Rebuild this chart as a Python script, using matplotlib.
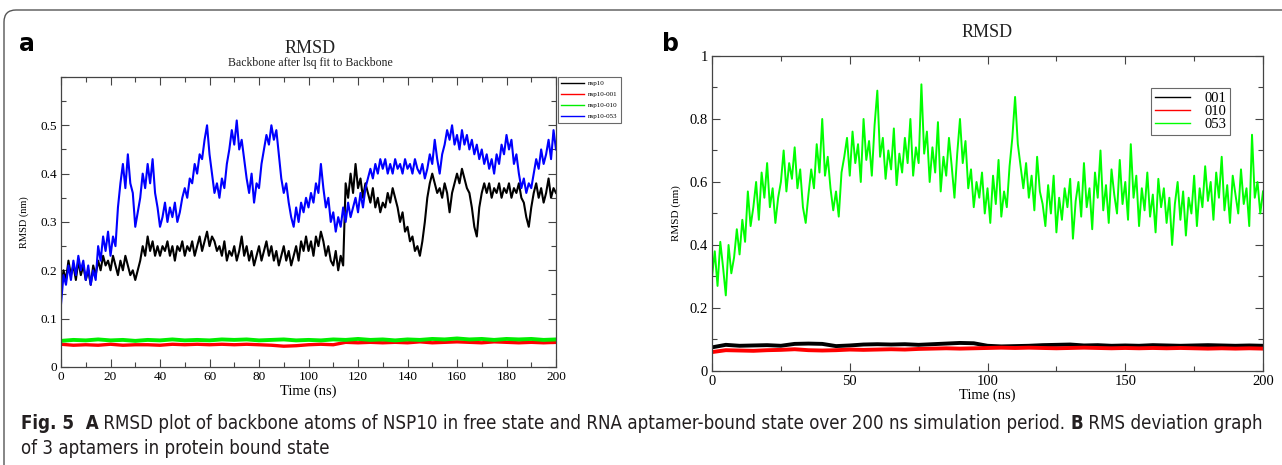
import numpy as np
import matplotlib.pyplot as plt
from matplotlib import font_manager
from matplotlib.patches import FancyBboxPatch
from matplotlib.ticker import MultipleLocator
from matplotlib.transforms import IdentityTransform

# ---- panel a: RMSD of NSP10 backbone ----
# one value per ns (0..200)
nsp10 = [
    0.16, 0.20, 0.18, 0.22, 0.19, 0.21, 0.18, 0.22, 0.19, 0.21,
    0.18, 0.20, 0.17, 0.21, 0.19, 0.22, 0.20, 0.23, 0.21, 0.22,
    0.20, 0.23, 0.21, 0.19, 0.22, 0.20, 0.23, 0.21, 0.19, 0.20,
    0.18, 0.20, 0.22, 0.25, 0.23, 0.27, 0.24, 0.26, 0.23, 0.25,
    0.23, 0.25, 0.24, 0.26, 0.23, 0.25, 0.22, 0.25, 0.24, 0.26,
    0.23, 0.25, 0.24, 0.26, 0.23, 0.25, 0.27, 0.24, 0.26, 0.28,
    0.25, 0.27, 0.26, 0.24, 0.25, 0.23, 0.26, 0.22, 0.24, 0.23,
    0.25, 0.22, 0.24, 0.27, 0.23, 0.25, 0.22, 0.24, 0.21, 0.23,
    0.25, 0.22, 0.24, 0.26, 0.23, 0.25, 0.22, 0.24, 0.21, 0.23,
    0.25, 0.22, 0.24, 0.21, 0.23, 0.25, 0.22, 0.26, 0.24, 0.27,
    0.24, 0.26, 0.23, 0.27, 0.25, 0.28, 0.26, 0.23, 0.25, 0.22,
    0.21, 0.24, 0.20, 0.23, 0.21, 0.38, 0.35, 0.40, 0.36, 0.42,
    0.37, 0.39, 0.35, 0.38, 0.36, 0.34, 0.37, 0.33, 0.35, 0.32,
    0.34, 0.33, 0.36, 0.34, 0.37, 0.35, 0.33, 0.30, 0.32, 0.28,
    0.29, 0.26, 0.27, 0.24, 0.25, 0.23, 0.26, 0.30, 0.35, 0.38,
    0.40, 0.38, 0.36, 0.37, 0.35, 0.38, 0.36, 0.32, 0.36, 0.38,
    0.40, 0.38, 0.41, 0.39, 0.37, 0.36, 0.33, 0.29, 0.27, 0.33,
    0.36, 0.38, 0.36, 0.38, 0.35, 0.37, 0.36, 0.38, 0.35, 0.37,
    0.36, 0.38, 0.35, 0.37, 0.36, 0.38, 0.35, 0.34, 0.31, 0.29,
    0.33, 0.36, 0.38, 0.35, 0.37, 0.34, 0.36, 0.39, 0.35, 0.37,
    0.36,
]
nsp10_053 = [
    0.13, 0.19, 0.17, 0.21, 0.18, 0.22, 0.19, 0.23, 0.20, 0.22,
    0.18, 0.21, 0.17, 0.20, 0.18, 0.25, 0.22, 0.27, 0.24, 0.28,
    0.23, 0.27, 0.25, 0.33, 0.38, 0.42, 0.37, 0.44, 0.38, 0.36,
    0.29, 0.32, 0.35, 0.40, 0.37, 0.42, 0.38, 0.43, 0.36, 0.33,
    0.29, 0.31, 0.34, 0.30, 0.33, 0.31, 0.34, 0.30, 0.32, 0.35,
    0.37, 0.35, 0.39, 0.38, 0.42, 0.40, 0.44, 0.43, 0.47, 0.50,
    0.44, 0.40, 0.36, 0.38, 0.35, 0.39, 0.37, 0.42, 0.45, 0.49,
    0.46, 0.51, 0.45, 0.47, 0.43, 0.39, 0.36, 0.40, 0.34, 0.38,
    0.37, 0.42, 0.45, 0.48, 0.46, 0.50, 0.47, 0.49, 0.44, 0.39,
    0.36, 0.38, 0.34, 0.31, 0.29, 0.33, 0.30, 0.34, 0.32, 0.35,
    0.33, 0.36, 0.34, 0.38, 0.36, 0.42, 0.37, 0.33, 0.35, 0.30,
    0.32, 0.28, 0.31, 0.29, 0.33, 0.30, 0.34, 0.31, 0.33, 0.35,
    0.32, 0.36, 0.33, 0.37, 0.39, 0.41, 0.39, 0.42, 0.40, 0.43,
    0.41, 0.43, 0.40, 0.42, 0.40, 0.43, 0.41, 0.42, 0.40, 0.43,
    0.41, 0.42, 0.40, 0.43, 0.41, 0.40, 0.42, 0.39, 0.41, 0.44,
    0.42, 0.47, 0.43, 0.40, 0.44, 0.46, 0.49, 0.47, 0.50, 0.46,
    0.48, 0.45, 0.49, 0.46, 0.48, 0.45, 0.47, 0.44, 0.46, 0.43,
    0.45, 0.42, 0.44, 0.41, 0.43, 0.40, 0.44, 0.42, 0.46, 0.44,
    0.48, 0.45, 0.47, 0.42, 0.44, 0.40, 0.37, 0.39, 0.36, 0.38,
    0.37, 0.40, 0.43, 0.41, 0.45, 0.42, 0.44, 0.47, 0.43, 0.49,
    0.45,
]
# flat traces, one value every 5 ns
nsp10_001 = [
    0.047, 0.045, 0.046, 0.045, 0.047, 0.045, 0.046, 0.046, 0.045, 0.047,
    0.046, 0.047, 0.046, 0.047, 0.046, 0.047, 0.046, 0.045, 0.043, 0.044,
    0.046, 0.047, 0.046, 0.051, 0.050, 0.051, 0.050, 0.051, 0.050, 0.052,
    0.050, 0.051, 0.052, 0.051, 0.050, 0.052, 0.051, 0.050, 0.051, 0.050,
    0.051,
]
nsp10_010 = [
    0.054, 0.056, 0.055, 0.057, 0.055, 0.056, 0.054, 0.056, 0.055, 0.057,
    0.055, 0.056, 0.055, 0.057, 0.056, 0.057, 0.055, 0.056, 0.057, 0.055,
    0.056, 0.055, 0.057, 0.056, 0.058, 0.056, 0.057, 0.055, 0.057, 0.056,
    0.058, 0.057, 0.059, 0.057, 0.058, 0.056, 0.058, 0.057, 0.058, 0.056,
    0.057,
]
labels_a = ['nsp10', 'nsp10-001', 'nsp10-010', 'nsp10-053']

# ---- panel b: RMSD of the 3 aptamers ----
apt_053 = [
    0.30, 0.38, 0.27, 0.41, 0.33, 0.24, 0.40, 0.31, 0.36, 0.45,
    0.37, 0.48, 0.41, 0.57, 0.46, 0.52, 0.60, 0.48, 0.63, 0.55,
    0.66, 0.52, 0.58, 0.47, 0.55, 0.60, 0.70, 0.57, 0.66, 0.61,
    0.71, 0.58, 0.64, 0.52, 0.47, 0.56, 0.64, 0.58, 0.72, 0.63,
    0.80, 0.62, 0.68, 0.58, 0.51, 0.57, 0.49, 0.63, 0.68, 0.74,
    0.62, 0.76, 0.66, 0.72, 0.60, 0.80, 0.67, 0.73, 0.62, 0.78,
    0.89, 0.68, 0.74, 0.61, 0.70, 0.64, 0.77, 0.59, 0.69, 0.63,
    0.74, 0.66, 0.80, 0.62, 0.71, 0.66, 0.91, 0.69, 0.76, 0.60,
    0.71, 0.63, 0.79, 0.57, 0.68, 0.62, 0.74, 0.65, 0.55, 0.69,
    0.80, 0.66, 0.73, 0.58, 0.64, 0.52, 0.60, 0.55, 0.63, 0.50,
    0.58, 0.47, 0.62, 0.53, 0.67, 0.49, 0.57, 0.52, 0.65, 0.74,
    0.87, 0.72, 0.65, 0.58, 0.66, 0.55, 0.62, 0.51, 0.68, 0.57,
    0.53, 0.46, 0.59, 0.50, 0.62, 0.44, 0.55, 0.48, 0.58, 0.52,
    0.61, 0.42, 0.54, 0.60, 0.49, 0.66, 0.52, 0.58, 0.45, 0.63,
    0.55, 0.70, 0.51, 0.59, 0.47, 0.64, 0.56, 0.50, 0.67, 0.53,
    0.60, 0.48, 0.72, 0.55, 0.62, 0.46, 0.58, 0.51, 0.63, 0.49,
    0.56, 0.44, 0.61, 0.52, 0.58, 0.47, 0.55, 0.40, 0.53, 0.60,
    0.48, 0.57, 0.43, 0.55, 0.50, 0.62, 0.46, 0.58, 0.52, 0.65,
    0.54, 0.60, 0.48, 0.63, 0.55, 0.68, 0.51, 0.59, 0.47, 0.62,
    0.56, 0.50, 0.64, 0.53, 0.58, 0.46, 0.75, 0.55, 0.60, 0.50,
    0.57,
]
apt_001 = [
    0.075, 0.083, 0.080, 0.081, 0.082, 0.080, 0.086, 0.087, 0.086, 0.079,
    0.081, 0.084, 0.085, 0.084, 0.085, 0.083, 0.085, 0.087, 0.089, 0.088,
    0.080, 0.078, 0.079, 0.080, 0.082, 0.083, 0.084, 0.081, 0.082, 0.080,
    0.081, 0.080, 0.082, 0.081, 0.080, 0.081, 0.082, 0.081, 0.080, 0.081,
    0.080,
]
apt_010 = [
    0.060, 0.066, 0.065, 0.064, 0.066, 0.067, 0.069, 0.066, 0.065, 0.066,
    0.068, 0.067, 0.068, 0.069, 0.068, 0.070, 0.071, 0.072, 0.071, 0.072,
    0.073, 0.074, 0.073, 0.074, 0.073, 0.072, 0.073, 0.074, 0.073, 0.072,
    0.073, 0.072, 0.073, 0.072, 0.073, 0.072, 0.071, 0.072, 0.071, 0.072,
    0.071,
]
labels_b = ['001', '010', '053']

SERIF = 'Liberation Serif'
INK = '#222222'


def t_axis(values):
    return np.linspace(0, 200, len(values))


def grace_axes(ax, xmaj, xmin, ymaj, ymin, ylabels, size):
    ax.set_xlim(0, 200)
    ax.xaxis.set_major_locator(MultipleLocator(xmaj))
    ax.xaxis.set_minor_locator(MultipleLocator(xmin))
    ax.set_yticks(ymaj)
    ax.set_yticklabels(ylabels)
    ax.yaxis.set_minor_locator(MultipleLocator(ymin))
    ax.tick_params(which='both', direction='in', top=True, right=True,
                   width=0.8, color='#444444', labelsize=size, pad=3)
    ax.tick_params(which='major', length=6)
    ax.tick_params(which='minor', length=3.5)
    for lab in ax.get_xticklabels() + ax.get_yticklabels():
        lab.set_family(SERIF)
    for sp in ax.spines.values():
        sp.set_linewidth(0.9)
        sp.set_color('#444444')


fig = plt.figure(figsize=(12.82, 4.65), dpi=100)

# ---------------- panel a ----------------
ax1 = fig.add_axes([0.0476, 0.2108, 0.3861, 0.6237])
ax1.plot(t_axis(nsp10), nsp10, color='black', lw=1.5, label=labels_a[0])
ax1.plot(t_axis(nsp10_001), nsp10_001, color='#ff0000', lw=2.4, label=labels_a[1])
ax1.plot(t_axis(nsp10_010), nsp10_010, color='#00ee00', lw=2.8, label=labels_a[2])
ax1.plot(t_axis(nsp10_053), nsp10_053, color='#0000ff', lw=1.5, label=labels_a[3])
ax1.set_ylim(0, 0.6)
grace_axes(ax1, 20, 10, [0, 0.1, 0.2, 0.3, 0.4, 0.5], 0.05,
           ['0', '0.1', '0.2', '0.3', '0.4', '0.5'], 9.5)
ax1.set_xlabel('Time (ns)', family=SERIF, fontsize=10.5, labelpad=1)
ax1.set_ylabel('RMSD (nm)', family=SERIF, fontsize=7.5, labelpad=8)
leg = ax1.legend(loc='upper left', bbox_to_anchor=(1.004, 1.0), frameon=True,
                 fancybox=False, prop={'family': SERIF, 'size': 5},
                 handlelength=3.2, handletextpad=0.6, borderpad=0.5,
                 labelspacing=0.75, borderaxespad=0)
leg.get_frame().set_edgecolor('#444444')
leg.get_frame().set_linewidth(0.8)
for ln in leg.get_lines():
    ln.set_linewidth(1.0)
fig.text(0.2420, 0.895, 'RMSD', family=SERIF, fontsize=13, ha='center', va='center', color=INK)
fig.text(0.2420, 0.864, 'Backbone after lsq fit to Backbone', family=SERIF,
         fontsize=8.5, ha='center', va='center', color=INK)
fig.text(0.0145, 0.905, 'a', fontsize=17, fontweight='bold', family='DejaVu Sans',
         ha='left', va='center', color='black')

# ---------------- panel b ----------------
ax2 = fig.add_axes([0.5554, 0.2022, 0.4298, 0.6774])
ax2.plot(t_axis(apt_001), apt_001, color='black', lw=2.8, label=labels_b[0])
ax2.plot(t_axis(apt_010), apt_010, color='#ff0000', lw=2.8, label=labels_b[1])
ax2.plot(t_axis(apt_053), apt_053, color='#00ff00', lw=1.4, label=labels_b[2])
ax2.set_ylim(0, 1)
grace_axes(ax2, 50, 25, [0, 0.2, 0.4, 0.6, 0.8, 1.0], 0.1,
           ['0', '0.2', '0.4', '0.6', '0.8', '1'], 10.5)
ax2.set_xlabel('Time (ns)', family=SERIF, fontsize=10.5, labelpad=0)
ax2.set_ylabel('RMSD (nm)', family=SERIF, fontsize=8, labelpad=6)
leg2 = ax2.legend(loc='upper right', bbox_to_anchor=(0.94, 0.898), frameon=True,
                  fancybox=False, prop={'family': SERIF, 'size': 10.5},
                  handlelength=2.4, handletextpad=1.0, borderpad=0.25,
                  labelspacing=0.0, borderaxespad=0)
leg2.get_frame().set_edgecolor('#444444')
leg2.get_frame().set_linewidth(0.8)
for ln in leg2.get_lines():
    ln.set_linewidth(1.0)
fig.text(0.7700, 0.931, 'RMSD', family=SERIF, fontsize=13, ha='center', va='center', color=INK)
fig.text(0.5165, 0.905, 'b', fontsize=17, fontweight='bold', family='DejaVu Sans',
         ha='left', va='center', color='black')

# ---------------- caption ----------------
# prefer a narrow sans like the journal's, else fall back to Liberation Sans
have_fonts = {(f.name, f.stretch) for f in font_manager.fontManager.ttflist}
cap_kw = {'family': 'Liberation Sans'}
if ('DejaVu Sans', 'condensed') in have_fonts:
    cap_kw = {'family': 'DejaVu Sans', 'stretch': 'condensed'}
if any(n == 'Liberation Sans Narrow' for n, _ in have_fonts):
    cap_kw = {'family': 'Liberation Sans Narrow'}

line1 = [('Fig. 5', True), ('  A', True),
         (' RMSD plot of backbone atoms of NSP10 in free state and RNA aptamer-bound '
          'state over 200 ns simulation period. ', False),
         ('B', True), (' RMS deviation graph', False)]
line2 = [('of 3 aptamers in protein bound state', False)]


def caption_line(x, y, parts, size, draw=True):
    r = fig.canvas.get_renderer()
    x0 = x
    for txt, bold in parts:
        t = fig.text(x, y, txt, fontsize=size, fontweight='bold' if bold else 'normal',
                     color='#231f20', ha='left', va='baseline', **cap_kw)
        x += t.get_window_extent(r).width / fig.bbox.width
        if not draw:
            t.remove()
    return x - x0


# fit the first line to the width it has in the reference
cap_size = 12.5
w = caption_line(0.0160, 0.077, line1, cap_size, draw=False)
cap_size = min(13.5, cap_size * (0.9860 - 0.0160) / w)
caption_line(0.0160, 0.077, line1, cap_size)
caption_line(0.0160, 0.024, line2, cap_size)

# rounded frame around the whole figure
frame = FancyBboxPatch((4, -60), 1400, 515, boxstyle='round,pad=0,rounding_size=12',
                       transform=IdentityTransform(), facecolor='none',
                       edgecolor='#555555', lw=1.0)
fig.patches.append(frame)

fig.savefig('out.png', dpi=100)
